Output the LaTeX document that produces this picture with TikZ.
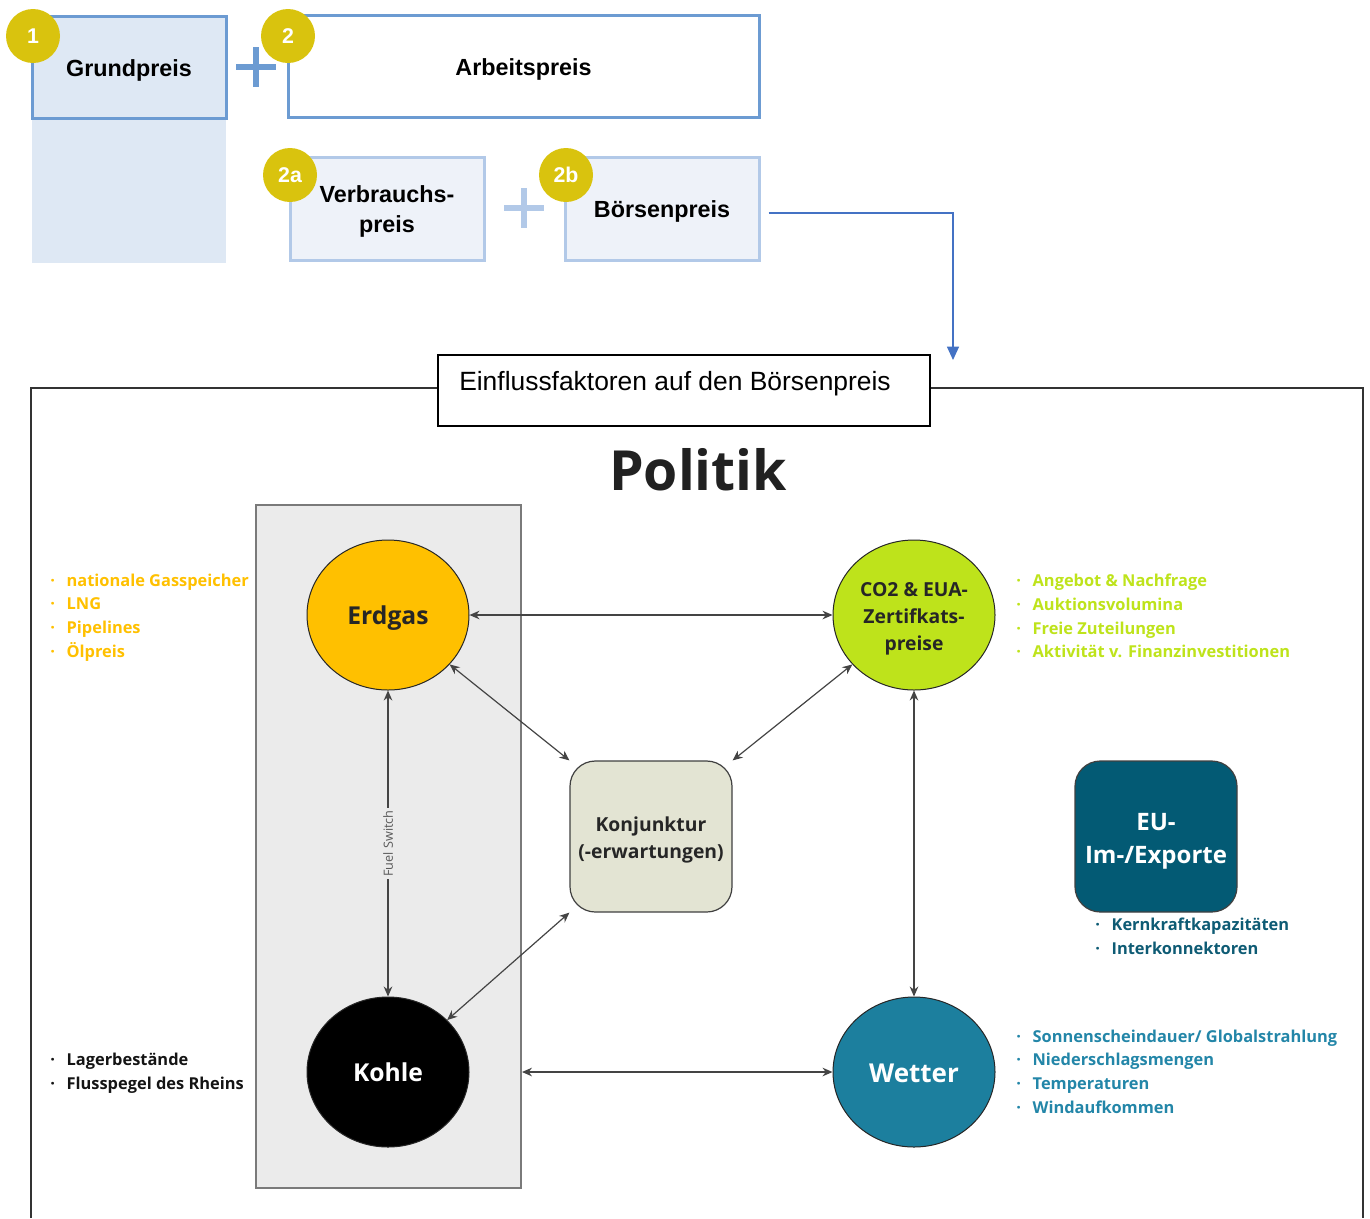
\documentclass[tikz,border=0pt]{standalone}
\usepackage{fontspec}
\setmainfont{Open Sans}
\newfontfamily\arialf{Liberation Sans}
\usetikzlibrary{arrows.meta,shapes.geometric}
\definecolor{gpfill}{HTML}{DEE8F4}
\definecolor{gpdraw}{HTML}{6C9BD2}
\definecolor{lightfill}{HTML}{EEF2F9}
\definecolor{lightdraw}{HTML}{B2C9E8}
\definecolor{badgecol}{HTML}{D9C30E}
\definecolor{bluearr}{HTML}{4472C4}
\definecolor{greyfill}{HTML}{EBEBEB}
\definecolor{greydraw}{HTML}{7A7A7A}
\definecolor{erdgascol}{HTML}{FFC000}
\definecolor{co2col}{HTML}{BEE31B}
\definecolor{wettercol}{HTML}{1C7F9E}
\definecolor{wettertext}{HTML}{2386A8}
\definecolor{eucol}{HTML}{035A74}
\definecolor{eutext}{HTML}{0E5B74}
\definecolor{konjcol}{HTML}{E3E4D3}
\definecolor{arrcol}{HTML}{444444}
\newcommand\lbul{\makebox[12.3pt][l]{·}}
\newcommand\tstrut[1]{\rule{0pt}{#1em}}
\begin{document}
\begin{tikzpicture}[x=0.75pt,y=-0.75pt,
  topbox/.style={draw=gpdraw,line width=2.25pt,minimum height=76.5pt,font=\arialf\bfseries\fontsize{17.5}{22.5}\selectfont,align=center,inner sep=0pt},
  subbox/.style={draw=lightdraw,fill=lightfill,line width=2.25pt,minimum width=145.5pt,minimum height=77.25pt,font=\arialf\bfseries\fontsize{17.5}{22.5}\selectfont,align=center,inner sep=0pt},
  badge/.style={circle,fill=badgecol,minimum size=40.5pt,inner sep=0pt,text=white,font=\arialf\bfseries\fontsize{16}{18}\selectfont},
  plusbig/.style={line width=4.5pt,draw=gpdraw},
  pluslight/.style={line width=4.5pt,draw=lightdraw},
  factor/.style={ellipse,draw=black!85,line width=0.75pt,minimum width=121.5pt,minimum height=112.5pt,inner sep=0pt,align=center,font=\bfseries\fontsize{18.5}{22}\selectfont},
  roundbox/.style={rectangle,rounded corners=19pt,draw=black!75,line width=0.9pt,minimum width=121.5pt,minimum height=113.25pt,inner sep=0pt,align=center},
  biarrow/.style={draw=arrcol,line width=0.9pt,{Stealth[length=7.5pt,width=6.5pt]}-{Stealth[length=7.5pt,width=6.5pt]}},
  factlist/.style={anchor=west,align=left,inner sep=0pt,font=\bfseries\fontsize{12.3}{17.8}\selectfont},
  frameline/.style={draw=black!80,line width=1.1pt}
]
\useasboundingbox (0,0) rectangle (1370,1218);

% ---------- top part ----------
\fill[gpfill] (32,118) rectangle (226,263);
\node[topbox,fill=gpfill,minimum width=145.5pt] (grund) at (129,67) {\tstrut{1}Grundpreis};
\node[topbox,fill=white,minimum width=353.25pt] (arbeit) at (523.5,66.5) {\tstrut{1}Arbeitspreis};
\node[subbox] (verbrauch) at (387,208.5) {\tstrut{0.95}Verbrauchs-\\preis};
\node[subbox] (boersen) at (662,208.5) {\tstrut{1}Börsenpreis};
\draw[plusbig] (236,67) -- (276,67) (256,47) -- (256,87);
\draw[pluslight] (504,208) -- (544,208) (524,188) -- (524,228);
\node[badge] (b1) at (33,36) {1};
\node[badge] (b2) at (288,36) {2};
\node[badge] (b2a) at (290,175) {2a};
\node[badge] (b2b) at (566,175) {2b};

% ---------- frame ----------
\draw[frameline] (31,1218) -- (31,388) -- (1363,388) -- (1363,1218);
\node[draw=black,line width=1.5pt,fill=white,minimum width=369pt,minimum height=53pt,inner sep=0pt] (title) at (684,390.5) {};
\node[anchor=base west,inner sep=0pt,font=\arialf\fontsize{19.8}{22}\selectfont] (titletext) at (459,390) {Einflussfaktoren auf den Börsenpreis};
\coordinate (einfl) at (953,360);
\draw[bluearr,line width=0.9pt,-{Triangle[length=10pt,width=9pt]},shorten <=6pt] ([yshift=-3.4pt]boersen.east) -| (einfl);

\node[font=\bfseries\fontsize{41.5}{48}\selectfont,text=black!87] (politik) at (698,470) {Politik};

% ---------- diagram ----------
\node[draw=greydraw,fill=greyfill,line width=1.5pt,minimum width=198.75pt,minimum height=512.25pt,inner sep=0pt] (fuelbox) at (388.5,846.5) {};

\node[factor,fill=erdgascol,text=black!85] (erdgas) at (388,615) {\tstrut{1}Erdgas};
\node[factor,fill=co2col,text=black!85,font=\bfseries\fontsize{14.5}{20.3}\selectfont] (co2) at (914,615) {\tstrut{1.1}CO2 \& EUA-\\Zertifkats-\\preise};
\node[factor,fill=black,text=white] (kohle) at (388,1072) {Kohle};
\node[factor,fill=wettercol,text=white,font=\bfseries\fontsize{19.5}{22}\selectfont] (wetter) at (914,1072) {\tstrut{0.85}Wetter};
\node[roundbox,fill=konjcol,text=black!85,font=\bfseries\fontsize{14.5}{20.3}\selectfont] (konj) at (651,836.5) {\tstrut{1.07}Konjunktur\\(-erwartungen)};
\node[roundbox,fill=eucol,text=white,font=\bfseries\fontsize{18}{25}\selectfont] (eu) at (1156,836.5) {\tstrut{1.1}EU-\\Im-/Exporte};

\draw[biarrow] (erdgas) -- (co2);
\draw[biarrow] (erdgas) -- (kohle) node[midway,sloped,fill=greyfill,inner sep=2pt,text=black!65,font=\fontsize{9.5}{11}\selectfont,rotate=180] (fuelswitch) {Fuel Switch};
\draw[biarrow] (erdgas) -- (konj.north west);
\draw[biarrow] (co2) -- (konj.north east);
\draw[biarrow] (kohle) -- (konj.south west);
\draw[biarrow] (co2) -- (wetter);
\draw[biarrow] (wetter) -- (kohle -| fuelbox.east);

% ---------- lists ----------
\node[factlist,text=erdgascol] (listgas) at (50,617.5) {\lbul nationale Gasspeicher\\\lbul LNG\\\lbul Pipelines\\\lbul Ölpreis};
\node[factlist,text=co2col] (listco2) at (1016,616) {\lbul Angebot \& Nachfrage\\\lbul Auktionsvolumina\\\lbul Freie Zuteilungen\\\lbul Aktivität v. Finanzinvestitionen};
\node[factlist,text=eutext] (listeu) at (1095,936) {\lbul Kernkraftkapazitäten\\\lbul Interkonnektoren};
\node[factlist,text=wettertext] (listwetter) at (1016,1071.5) {\lbul Sonnenscheindauer/ Globalstrahlung\\\lbul Niederschlagsmengen\\\lbul Temperaturen\\\lbul Windaufkommen};
\node[factlist,text=black!92] (listkohle) at (50,1073) {\lbul Lagerbestände\\\lbul Flusspegel des Rheins};
\end{tikzpicture}
\end{document}
